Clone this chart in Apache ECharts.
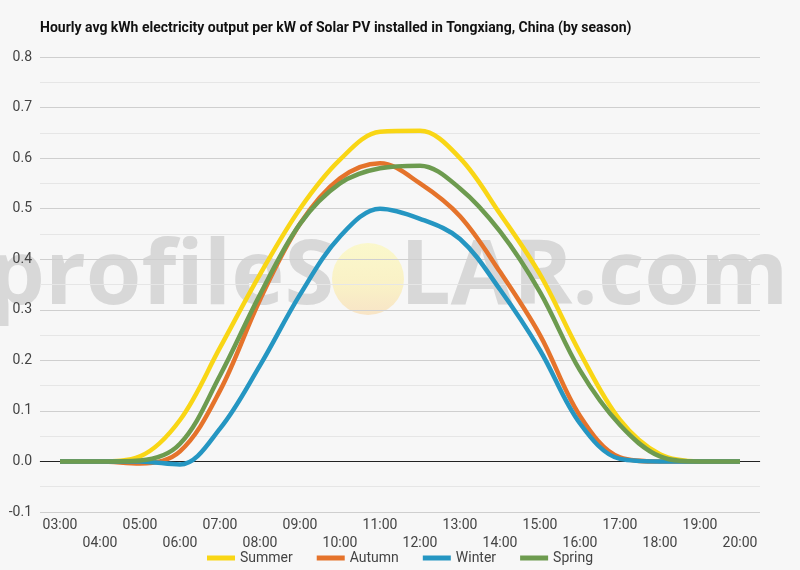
<!DOCTYPE html>
<html>
<head>
<meta charset="utf-8">
<script src="https://cdn.jsdelivr.net/npm/echarts@6/dist/echarts.min.js"></script>
<style>
  html, body { margin: 0; padding: 0; background: #f7f7f7; }
  #chart { width: 800px; height: 570px; }
</style>
</head>
<body>
<div id="chart"></div>
<script>
// hours on the x axis
const hours = ['03:00','04:00','05:00','06:00','07:00','08:00','09:00','10:00','11:00',
  '12:00','13:00','14:00','15:00','16:00','17:00','18:00','19:00','20:00']

// hourly kWh per kW
const summer = [0, 0, 0.01, 0.082, 0.225, 0.37, 0.5, 0.597, 0.652, 0.654, 0.6, 0.49, 0.37, 0.215, 0.082, 0.014, 0, 0]
const autumn = [0, 0, -0.004, 0.02, 0.14, 0.32, 0.47, 0.56, 0.59, 0.55, 0.485, 0.375, 0.25, 0.09, 0.008, 0, 0, 0]
const winter = [0, 0, 0, -0.006, 0.065, 0.19, 0.33, 0.445, 0.5, 0.48, 0.44, 0.34, 0.22, 0.075, 0.005, 0, 0, 0]
const spring = [0, 0, 0.002, 0.035, 0.17, 0.33, 0.47, 0.55, 0.58, 0.585, 0.54, 0.455, 0.335, 0.18, 0.072, 0.01, 0, 0]

const seasons = [
  {name: 'Summer', data: summer, color: '#f9d615'},
  {name: 'Autumn', data: autumn, color: '#e5732b'},
  {name: 'Winter', data: winter, color: '#2596c2'},
  {name: 'Spring', data: spring, color: '#6d9b4f'}
]

let chart = echarts.init(document.getElementById('chart'))

let series = seasons.map(s => ({
  name: s.name,
  type: 'line',
  data: s.data,
  smooth: 0.35,
  showSymbol: false,
  lineStyle: {width: 4.5, color: s.color},
  itemStyle: {color: s.color},
  z: 3
}))
// black zero line
series[0].markLine = {
  silent: true,
  symbol: 'none',
  label: {show: false},
  lineStyle: {color: '#222', width: 1, type: 'solid'},
  data: [{yAxis: 0}],
  z: 1
}

const wmFont = 'bold 90px "Open Sans", Lato, sans-serif'
const wmFill = 'rgba(185,185,185,0.5)'

chart.setOption({
  backgroundColor: '#f7f7f7',
  animation: false,
  title: {
    text: 'Hourly avg kWh electricity output per kW of Solar PV installed in Tongxiang, China (by season)',
    left: 40,
    top: 21,
    padding: 0,
    textStyle: {fontFamily: '"Liberation Sans Narrow", Roboto, sans-serif', fontWeight: 'bold', fontSize: 14, color: '#111'}
  },
  legend: {
    bottom: 5,
    left: 'center',
    padding: 0,
    icon: 'rect',
    itemWidth: 28,
    itemHeight: 5,
    itemGap: 24,
    textStyle: {fontFamily: 'Roboto', fontSize: 14, color: '#444'},
    data: seasons.map(s => s.name)
  },
  grid: {left: 40, right: 40, top: 57, bottom: 58},
  xAxis: {
    type: 'category',
    data: hours,
    boundaryGap: true,
    axisTick: {show: false},
    axisLine: {lineStyle: {color: '#ccc'}},
    axisLabel: {
      interval: 0,
      margin: 4,
      fontFamily: 'Roboto',
      fontSize: 14,
      color: '#444',
      lineHeight: 18,
      formatter: (v, i) => i % 2 ? '\n' + v : v
    }
  },
  yAxis: {
    type: 'value',
    min: -0.1,
    max: 0.8,
    interval: 0.1,
    axisLine: {show: false},
    axisTick: {show: false},
    axisLabel: {margin: 8, fontFamily: 'Roboto', fontSize: 14, color: '#444',
      formatter: v => v.toFixed(1)},
    splitLine: {lineStyle: {color: '#cfcfcf'}},
    minorTick: {show: false, splitNumber: 2},
    minorSplitLine: {show: true, lineStyle: {color: '#e6e6e6'}}
  },
  graphic: [
    {
      type: 'group',
      z: 100,
      silent: true,
      children: [
        {type: 'text',
          style: {x: 334, y: 278, text: 'profileS', font: wmFont, fill: wmFill,
            align: 'right', verticalAlign: 'middle'}},
        {type: 'circle', shape: {cx: 368, cy: 279, r: 36},
          style: {fill: new echarts.graphic.LinearGradient(0, 0, 0, 1, [
            {offset: 0, color: 'rgba(251,248,196,0.85)'},
            {offset: 0.6, color: 'rgba(250,240,190,0.85)'},
            {offset: 1, color: 'rgba(248,225,190,0.85)'}
          ])}},
        {type: 'text',
          style: {x: 400, y: 278, text: 'LAR.com', font: wmFont, fill: wmFill,
            align: 'left', verticalAlign: 'middle'}}
      ]
    }
  ],
  series: series
})
</script>
</body>
</html>
